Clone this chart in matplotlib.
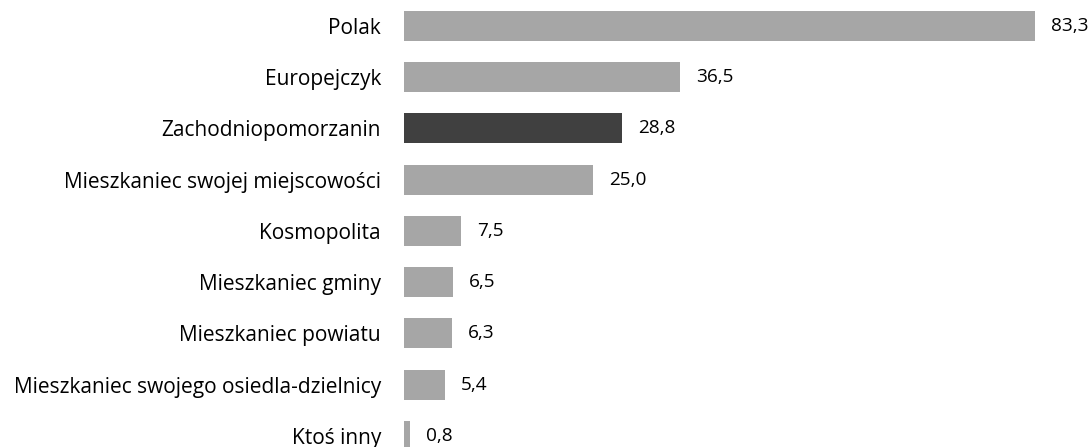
import matplotlib.pyplot as plt

plt.rcParams['font.family'] = ['Open Sans', 'DejaVu Sans']

categories = ['Polak', 'Europejczyk', 'Zachodniopomorzanin',
              'Mieszkaniec swojej miejscowości', 'Kosmopolita',
              'Mieszkaniec gminy', 'Mieszkaniec powiatu',
              'Mieszkaniec swojego osiedla-dzielnicy', 'Ktoś inny']
values = [83.3, 36.5, 28.8, 25.0, 7.5, 6.5, 6.3, 5.4, 0.8]
highlight = 'Zachodniopomorzanin'

fig = plt.figure(figsize=(10.9, 4.47), dpi=100)
ax = fig.add_axes([404 / 1090, 0, 686 / 1090, 1])

colors = ['#404040' if c == highlight else '#a6a6a6' for c in categories]
pos = list(range(len(categories)))
bars = ax.barh(pos, values, height=0.585, color=colors)

for b, v in zip(bars, values):
    ax.annotate(f'{v:.1f}'.replace('.', ','),
                (b.get_width(), b.get_y() + b.get_height() / 2),
                xytext=(11.5, 0), textcoords='offset points',
                va='center', ha='left', fontsize=13.7, color='#000000')

ax.set_xlim(0, 686 / (631 / 83.3))
ax.set_ylim(8.215, -0.507)
ax.set_yticks(pos)
ax.set_yticklabels(categories, fontsize=15)
ax.tick_params(axis='y', length=0, pad=16.5)
ax.set_xticks([])
for s in ax.spines.values():
    s.set_visible(False)

fig.savefig('out.png', dpi=100)
